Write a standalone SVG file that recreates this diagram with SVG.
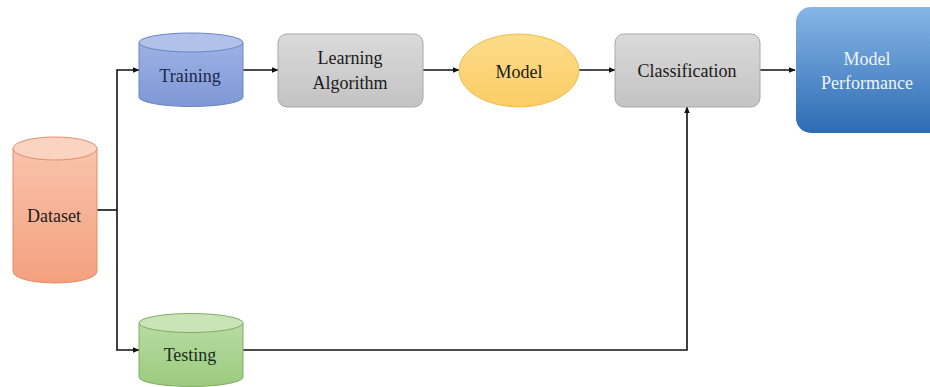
<svg xmlns="http://www.w3.org/2000/svg" width="930" height="387" viewBox="0 0 930 387">
  <defs>
    <linearGradient id="gOrange" x1="0" y1="0" x2="0" y2="1">
      <stop offset="0" stop-color="#f8c3ab"/>
      <stop offset="1" stop-color="#f4a07e"/>
    </linearGradient>
    <linearGradient id="gBlue" x1="0" y1="0" x2="0" y2="1">
      <stop offset="0" stop-color="#9db2e4"/>
      <stop offset="1" stop-color="#7e98d6"/>
    </linearGradient>
    <linearGradient id="gGreen" x1="0" y1="0" x2="0" y2="1">
      <stop offset="0" stop-color="#b8dba2"/>
      <stop offset="1" stop-color="#9bcb7e"/>
    </linearGradient>
    <linearGradient id="gGray" x1="0" y1="0" x2="0" y2="1">
      <stop offset="0" stop-color="#dadada"/>
      <stop offset="1" stop-color="#c3c3c3"/>
    </linearGradient>
    <linearGradient id="gYellow" x1="0" y1="0" x2="0" y2="1">
      <stop offset="0" stop-color="#fddc8a"/>
      <stop offset="1" stop-color="#fbcd65"/>
    </linearGradient>
    <linearGradient id="gPerf" x1="0" y1="0" x2="0" y2="1">
      <stop offset="0" stop-color="#86b6e6"/>
      <stop offset="1" stop-color="#2d6bb3"/>
    </linearGradient>
    <marker id="arrow" viewBox="0 0 10 10" refX="9" refY="5" markerWidth="7" markerHeight="7" markerUnits="userSpaceOnUse" orient="auto">
      <path d="M0,1 L10,5 L0,9 z" fill="#111"/>
    </marker>
  </defs>
  <style>
    .lbl { font-family: "Liberation Serif", "DejaVu Serif", serif; font-size: 18px; fill: #1a1a1a; text-anchor: middle; }
    .edge { fill: none; stroke: #111; stroke-width: 1.6; }
    .arr { marker-end: url(#arrow); }
    .box { fill: url(#gGray); stroke: #a8a8a8; stroke-width: 1; }
  </style>

  <rect width="930" height="387" fill="#ffffff"/>

  <!-- connectors -->
  <g id="connectors">
    <polyline class="edge" points="97,210 117,210"/>
    <polyline class="edge arr" points="117,210 117,70 139,70"/>
    <polyline class="edge arr" points="117,210 117,350 139,350"/>
    <line class="edge arr" x1="243" y1="70" x2="278" y2="70"/>
    <line class="edge arr" x1="423" y1="70" x2="459" y2="70"/>
    <line class="edge arr" x1="579" y1="70" x2="615" y2="70"/>
    <line class="edge arr" x1="760" y1="70" x2="795" y2="70"/>
    <polyline class="edge arr" points="243,350 687,350 687,107"/>
  </g>

  <!-- Dataset cylinder -->
  <g id="dataset">
    <path d="M13,148.5 L13,271.5 A42,11.5 0 0 0 97,271.5 L97,148.5" fill="url(#gOrange)" stroke="#e48c69" stroke-width="1"/>
    <ellipse cx="55" cy="148.5" rx="42" ry="11.5" fill="#fad3c1" stroke="#e48c69" stroke-width="1"/>
    <text class="lbl" font-family="Liberation Serif" x="54" y="222">Dataset</text>
  </g>

  <!-- Training cylinder -->
  <g id="training">
    <path d="M139,42.5 L139,97 A52,9.5 0 0 0 243,97 L243,42.5" fill="url(#gBlue)" stroke="#6c84c2" stroke-width="1"/>
    <ellipse cx="191" cy="42.5" rx="52" ry="9.5" fill="#b1c2ea" stroke="#6c84c2" stroke-width="1"/>
    <text class="lbl" x="190" y="82" style="fill:#1c2648">Training</text>
  </g>

  <!-- Learning Algorithm -->
  <g id="learning-algorithm">
    <rect class="box" x="278" y="34" width="145" height="73" rx="9"/>
    <text class="lbl" x="350" y="64">Learning</text>
    <text class="lbl" x="350" y="89">Algorithm</text>
  </g>

  <!-- Model -->
  <g id="model">
    <ellipse cx="519" cy="70.5" rx="60" ry="36.5" fill="url(#gYellow)" stroke="#f0bd50" stroke-width="1"/>
    <text class="lbl" x="519" y="78">Model</text>
  </g>

  <!-- Classification -->
  <g id="classification">
    <rect class="box" x="615" y="34" width="145" height="73" rx="9"/>
    <text class="lbl" x="687" y="77">Classification</text>
  </g>

  <!-- Model Performance -->
  <g id="model-performance">
    <rect x="796" y="7" width="150" height="126" rx="15" fill="url(#gPerf)"/>
    <text class="lbl" x="867" y="65" style="fill:#eef4fb">Model</text>
    <text class="lbl" x="867" y="89" style="fill:#eef4fb">Performance</text>
  </g>

  <!-- Testing cylinder -->
  <g id="testing">
    <path d="M139,323 L139,377 A52,9.5 0 0 0 243,377 L243,323" fill="url(#gGreen)" stroke="#80ad63" stroke-width="1"/>
    <ellipse cx="191" cy="323" rx="52" ry="9.5" fill="#c9e4b6" stroke="#80ad63" stroke-width="1"/>
    <text class="lbl" x="190" y="361" style="fill:#1a2e1a">Testing</text>
  </g>
</svg>
